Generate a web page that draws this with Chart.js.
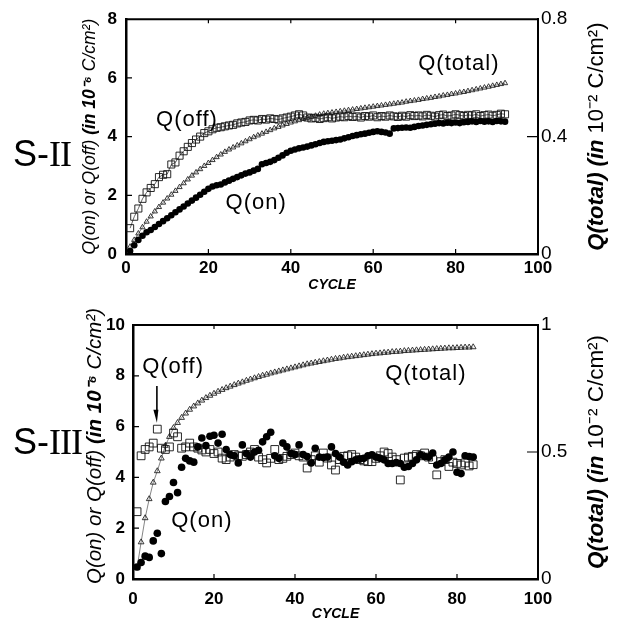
<!DOCTYPE html>
<html>
<head>
<meta charset="utf-8">
<script src="https://cdn.jsdelivr.net/npm/chart.js@4.4.1/dist/chart.umd.min.js"></script>
<style>
body { margin: 0; background: #fff; }
#wrap { position: relative; width: 618px; height: 627px; overflow: hidden; }
canvas { position: absolute; left: 0; }
.panel { position: absolute; left: 13px; font-family: "Liberation Sans", Arial, sans-serif; font-size: 36px; line-height: 1; color: #000; }
.panel span { font-family: "Liberation Serif", serif; letter-spacing: -1px; }
</style>
</head>
<body>
<div id="wrap">
	<canvas id="top" width="618" height="300" style="top:0"></canvas>
	<canvas id="bot" width="618" height="327" style="top:300px"></canvas>
	<div class="panel" style="top:136px">S-<span>II</span></div>
	<div class="panel" style="top:424px">S-<span>III</span></div>
</div>
<script>
/* datos: ciclo -> carga */
const cycles = [1,2,3,4,5,6,7,8,9,10,11,12,13,14,15,16,17,18,19,20,21,22,23,24,25,26,27,28,29,30,
	31,32,33,34,35,36,37,38,39,40,41,42,43,44,45,46,47,48,49,50,51,52,53,54,55,56,57,58,59,60,
	61,62,63,64,65,66,67,68,69,70,71,72,73,74,75,76,77,78,79,80,81,82,83,84,85,86,87,88,89,90,91,92];

// S-II (Q(on), Q(off) en 10^-6 C/cm2 ; Q(total) en 10^-2 C/cm2)
const qOnS2 = [0.1,0.3,0.48,0.62,0.74,0.82,0.92,1.02,1.12,1.22,
	1.32,1.42,1.52,1.62,1.72,1.82,1.92,2.02,2.12,2.22,
	2.3,2.34,2.37,2.44,2.5,2.56,2.62,2.68,2.74,2.78,
	2.84,2.9,3.06,3.1,3.14,3.2,3.28,3.36,3.45,3.52,
	3.56,3.6,3.63,3.66,3.7,3.74,3.78,3.82,3.84,3.86,
	3.88,3.9,3.94,3.98,4.02,4.05,4.08,4.1,4.13,4.16,
	4.18,4.16,4.14,4.1,4.28,4.29,4.3,4.31,4.3,4.33,
	4.36,4.38,4.4,4.42,4.44,4.46,4.45,4.47,4.46,4.48,
	4.46,4.49,4.5,4.52,4.5,4.53,4.51,4.52,4.5,4.53,
	4.52,4.51];
const qOffS2 = [0.88,1.27,1.55,1.88,2.1,2.25,2.38,2.62,2.7,2.72,
	3.05,3.12,3.35,3.5,3.65,3.78,3.9,4.0,4.12,4.18,
	4.25,4.3,4.32,4.35,4.38,4.4,4.45,4.48,4.5,4.55,
	4.57,4.55,4.6,4.58,4.62,4.6,4.58,4.62,4.65,4.68,
	4.72,4.76,4.72,4.65,4.62,4.64,4.6,4.63,4.66,4.62,
	4.65,4.68,4.66,4.7,4.67,4.69,4.65,4.7,4.68,4.72,
	4.66,4.7,4.68,4.72,4.69,4.67,4.71,4.68,4.73,4.7,
	4.72,4.69,4.74,4.71,4.68,4.73,4.75,4.7,4.72,4.76,
	4.73,4.7,4.74,4.72,4.76,4.7,4.73,4.75,4.71,4.74,
	4.78,4.76];
const qTotS2 = [0.025,0.048,0.07,0.091,0.11,0.128,0.145,0.16,0.175,0.189,
	0.202,0.215,0.228,0.241,0.254,0.267,0.278,0.289,0.3,0.31,
	0.32,0.33,0.339,0.348,0.356,0.363,0.37,0.377,0.384,0.391,
	0.398,0.404,0.41,0.416,0.422,0.428,0.433,0.438,0.443,0.448,
	0.452,0.456,0.46,0.464,0.468,0.471,0.475,0.478,0.48,0.482,
	0.484,0.486,0.488,0.49,0.492,0.494,0.496,0.498,0.5,0.502,
	0.504,0.506,0.508,0.51,0.512,0.514,0.516,0.519,0.521,0.523,
	0.525,0.528,0.53,0.532,0.535,0.537,0.54,0.542,0.545,0.547,
	0.55,0.552,0.555,0.558,0.561,0.564,0.567,0.57,0.573,0.576,
	0.579,0.582];

// S-III
const qOnS3 = [0.47,0.65,0.9,0.85,1.5,1.8,1.0,3.05,3.25,3.8,
	3.4,4.4,4.75,4.65,4.6,5.2,5.55,5.25,5.62,5.66,
	5.35,5.7,5.1,4.9,4.85,4.57,5.28,4.94,4.8,5.0,
	5.07,5.4,5.6,5.78,4.85,4.75,5.35,5.2,4.94,4.9,
	5.28,4.9,4.82,4.57,5.15,4.8,4.78,4.8,5.2,4.94,
	4.8,4.6,4.49,4.62,4.69,4.72,4.75,4.85,4.89,4.8,
	4.75,4.69,4.55,4.55,4.58,4.55,4.4,4.43,4.55,4.69,
	4.89,4.82,4.8,4.96,4.49,4.55,4.69,4.8,5.0,4.2,
	4.15,4.85,4.82,4.8];
const qOffS3 = [2.65,4.85,5.1,5.2,5.35,5.9,5.15,5.1,5.2,5.75,
	5.6,5.15,5.2,5.35,5.2,5.15,5.08,5.0,5.1,4.94,
	5.0,4.76,4.7,4.8,4.9,4.85,4.83,4.9,5.0,5.1,
	4.8,4.7,4.57,4.75,5.1,4.7,4.75,4.83,4.9,4.96,
	4.85,4.8,4.37,4.7,4.85,4.6,4.96,4.76,4.49,4.29,
	4.7,4.83,4.85,4.9,4.8,4.7,4.65,4.62,4.62,4.75,
	4.85,5.0,4.94,4.8,4.7,3.9,4.76,4.8,4.83,4.9,
	4.85,4.96,4.8,4.7,4.1,4.62,4.7,4.43,4.6,4.55,
	4.49,4.57,4.45,4.5];
const qTotS3 = [0.043,0.145,0.24,0.315,0.38,0.425,0.475,0.525,0.56,0.595,
	0.615,0.635,0.652,0.667,0.68,0.692,0.703,0.713,0.722,0.73,
	0.738,0.745,0.752,0.758,0.764,0.77,0.775,0.781,0.786,0.791,
	0.796,0.801,0.805,0.81,0.814,0.818,0.822,0.826,0.83,0.834,
	0.838,0.842,0.846,0.849,0.852,0.855,0.858,0.861,0.864,0.867,
	0.869,0.872,0.874,0.876,0.878,0.88,0.882,0.884,0.886,0.888,
	0.889,0.891,0.892,0.894,0.895,0.896,0.898,0.899,0.9,0.901,
	0.902,0.903,0.904,0.905,0.906,0.907,0.908,0.909,0.909,0.91,
	0.911,0.912,0.912,0.913];

const xTicks = [0, 20, 40, 60, 80, 100];
const yTicksS2 = [0, 2, 4, 6, 8];
const y2TicksS2 = [0, 0.4, 0.8];
const yTicksS3 = [0, 2, 4, 6, 8, 10];
const y2TicksS3 = [0, 0.5, 1];

const SANS = '"Liberation Sans", Arial, sans-serif';
const NARROW = '"Liberation Sans Narrow", "Liberation Sans", Arial, sans-serif';

function pts(xs, ys) {
	return ys.map((y, i) => ({ x: xs[i], y: y }));
}

// titulos laterales con tramos de fuente distinta, girados -90
function drawRuns(ctx, runs, cx, cy) {
	ctx.save();
	ctx.translate(cx, cy);
	ctx.rotate(-Math.PI / 2);
	ctx.textAlign = "left";
	ctx.textBaseline = "middle";
	let total = 0;
	runs.forEach((r) => { ctx.font = r.font; total += ctx.measureText(r.text).width; });
	let x = -total / 2;
	runs.forEach((r) => {
		ctx.font = r.font;
		ctx.fillText(r.text, x, 0);
		x += ctx.measureText(r.text).width;
	});
	ctx.restore();
}

function decor(cfg) {
	return {
		id: "decor",
		afterDraw(chart) {
			const ctx = chart.ctx;
			const a = chart.chartArea;
			const sx = chart.scales.x, sy = chart.scales.y, s2 = chart.scales.y2;
			ctx.save();
			ctx.strokeStyle = "#000";
			ctx.fillStyle = "#000";
			// borde superior
			ctx.lineWidth = 2;
			ctx.beginPath();
			ctx.moveTo(a.left - 1, a.top);
			ctx.lineTo(a.right + 1, a.top);
			ctx.stroke();
			// marcas hacia dentro
			ctx.lineWidth = 1.2;
			ctx.beginPath();
			sx.ticks.forEach((t) => {
				if (t.value <= sx.min || t.value >= sx.max) return;
				const px = sx.getPixelForValue(t.value);
				ctx.moveTo(px, a.bottom); ctx.lineTo(px, a.bottom - 5);
				ctx.moveTo(px, a.top); ctx.lineTo(px, a.top + 4);
			});
			sy.ticks.forEach((t) => {
				if (t.value <= sy.min || t.value >= sy.max) return;
				const py = sy.getPixelForValue(t.value);
				ctx.moveTo(a.left, py); ctx.lineTo(a.left + 6, py);
			});
			s2.ticks.forEach((t) => {
				if (t.value <= s2.min || t.value >= s2.max) return;
				const py = s2.getPixelForValue(t.value);
				ctx.moveTo(a.right + 1, py); ctx.lineTo(a.right - 11, py);
			});
			ctx.stroke();
			// etiquetas de las curvas
			ctx.font = "22px " + SANS;
			ctx.letterSpacing = "1px";
			ctx.textAlign = "center";
			ctx.textBaseline = "middle";
			cfg.notes.forEach((n) => ctx.fillText(n.text, sx.getPixelForValue(n.x), sy.getPixelForValue(n.y)));
			ctx.letterSpacing = "0px";
			// flecha Q(off)
			if (cfg.arrow) {
				const ax = sx.getPixelForValue(cfg.arrow.x);
				const ya = sy.getPixelForValue(cfg.arrow.from);
				const yb = sy.getPixelForValue(cfg.arrow.to);
				ctx.lineWidth = 1.6;
				ctx.beginPath();
				ctx.moveTo(ax, ya);
				ctx.lineTo(ax, yb - 10);
				ctx.stroke();
				ctx.beginPath();
				ctx.moveTo(ax - 3.5, yb - 13);
				ctx.lineTo(ax + 1.5, yb - 13);
				ctx.lineTo(ax, yb);
				ctx.closePath();
				ctx.fill();
			}
			const cy = (a.top + a.bottom) / 2;
			drawRuns(ctx, cfg.leftTitle, cfg.leftTitleX, cy + cfg.leftTitleShift);
			drawRuns(ctx, cfg.rightTitle, cfg.rightTitleX, cy);
			ctx.restore();
		},
	};
}

function makeChart(cfg) {
	const ctx = document.getElementById(cfg.canvas).getContext("2d");
	return new Chart(ctx, {
		type: "line",
		data: {
			datasets: [
				{
					label: "Q(on)",
					data: pts(cycles, cfg.on),
					yAxisID: "y",
					showLine: false,
					pointStyle: "circle",
					pointRadius: cfg.onR,
					pointBackgroundColor: "#000",
					pointBorderColor: "#000",
					pointBorderWidth: 0,
				},
				{
					label: "Q(off)",
					data: pts(cycles, cfg.off),
					yAxisID: "y",
					showLine: cfg.offLine > 0,
					borderColor: "#222",
					borderWidth: cfg.offLine,
					pointStyle: "rect",
					pointRadius: cfg.offR,
					pointBackgroundColor: "rgba(255,255,255,0)",
					pointBorderColor: "#111",
					pointBorderWidth: 0.9,
				},
				{
					label: "Q(total)",
					data: pts(cycles, cfg.tot),
					yAxisID: "y2",
					showLine: true,
					borderColor: "#333",
					borderWidth: 0.6,
					pointStyle: "triangle",
					pointRadius: cfg.totR,
					pointBackgroundColor: "rgba(255,255,255,0)",
					pointBorderColor: "#222",
					pointBorderWidth: 0.9,
				},
			],
		},
		options: {
			responsive: false,
			animation: false,
			events: [],
			layout: { padding: { top: cfg.top, left: 0, right: 0, bottom: 0 } },
			plugins: { legend: { display: false }, tooltip: { enabled: false } },
			scales: {
				x: {
					type: "linear",
					min: 0,
					max: 100,
					afterBuildTicks: (s) => { s.ticks = xTicks.map((v) => ({ value: v })); },
					afterFit: (s) => { s.height = cfg.xH; },
					grid: { display: false, drawTicks: false },
					border: { display: true, color: "#000", width: 2.5 },
					ticks: { color: "#000", padding: cfg.xLabelPad, font: { family: NARROW, size: 17, weight: "bold" } },
					title: {
						display: true,
						text: "CYCLE",
						color: "#000",
						font: { family: SANS, size: 14, weight: "bold", style: "italic" },
						padding: { top: 0, bottom: cfg.xTitlePad },
					},
				},
				y: {
					type: "linear",
					position: "left",
					min: 0,
					max: cfg.yMax,
					afterBuildTicks: (s) => { s.ticks = cfg.yTicks.map((v) => ({ value: v })); },
					afterFit: (s) => { s.width = cfg.left; },
					grid: { display: false, drawTicks: false },
					border: { display: true, color: "#000", width: 2.5 },
					ticks: { color: "#000", padding: cfg.yLabelPad, font: { family: NARROW, size: 17, weight: "bold" } },
				},
				y2: {
					type: "linear",
					position: "right",
					min: 0,
					max: cfg.y2Max,
					afterBuildTicks: (s) => { s.ticks = cfg.y2Ticks.map((v) => ({ value: v })); },
					afterFit: (s) => { s.width = 618 - cfg.right; },
					grid: { display: false, drawTicks: false },
					border: { display: true, color: "#000", width: 2 },
					ticks: { color: "#000", padding: 3, font: { family: NARROW, size: 19 }, callback: (v) => String(v) },
				},
			},
		},
		plugins: [decor(cfg)],
	});
}

makeChart({
	canvas: "top",
	on: qOnS2, off: qOffS2, tot: qTotS2,
	yMax: 8, yTicks: yTicksS2, y2Max: 0.8, y2Ticks: y2TicksS2,
	top: 19, left: 126, right: 538, xH: 46,
	xLabelPad: 4, xTitlePad: 6, yLabelPad: 9,
	onR: 3.3, offR: 5, totR: 3, offLine: 0.7,
	notes: [
		{ text: "Q(off)", x: 14.8, y: 4.57 },
		{ text: "Q(on)", x: 31.6, y: 1.74 },
		{ text: "Q(total)", x: 80.8, y: 6.48 },
	],
	leftTitleX: 90,
	leftTitleShift: 0,
	leftTitle: [
		{ text: "Q(on) or Q(off) ", font: "italic 17.5px " + SANS },
		{ text: "(in 10\u207B\u2076 ", font: "italic bold 17.5px " + SANS },
		{ text: "C/cm\u00B2)", font: "italic 17.5px " + SANS },
	],
	rightTitleX: 597,
	rightTitle: [
		{ text: "Q(total) (in ", font: "italic bold 22px " + SANS },
		{ text: "10\u207B\u00B2 C/cm\u00B2)", font: "22px " + SANS },
	],
});

makeChart({
	canvas: "bot",
	on: qOnS3, off: qOffS3, tot: qTotS3,
	yMax: 10, yTicks: yTicksS3, y2Max: 1, y2Ticks: y2TicksS3,
	top: 25, left: 133, right: 538, xH: 48,
	xLabelPad: 10, xTitlePad: 4, yLabelPad: 8,
	onR: 3.8, offR: 5.5, totR: 3.3, offLine: 0,
	notes: [
		{ text: "Q(off)", x: 9.9, y: 8.35 },
		{ text: "Q(on)", x: 17, y: 2.28 },
		{ text: "Q(total)", x: 72.3, y: 8.07 },
	],
	arrow: { x: 5.9, from: 7.6, to: 6.15 },
	leftTitleX: 95,
	leftTitleShift: -6,
	leftTitle: [
		{ text: "Q(on) or Q(off) ", font: "italic 20.5px " + SANS },
		{ text: "(in 10\u207B\u2076 ", font: "italic bold 20.5px " + SANS },
		{ text: "C/cm\u00B2)", font: "italic 20.5px " + SANS },
	],
	rightTitleX: 597,
	rightTitle: [
		{ text: "Q(total) (in ", font: "italic bold 22.5px " + SANS },
		{ text: "10\u207B\u00B2 C/cm\u00B2)", font: "22.5px " + SANS },
	],
});
</script>
</body>
</html>
